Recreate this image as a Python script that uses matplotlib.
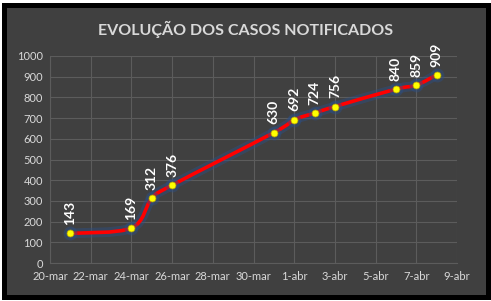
import datetime as dt

import matplotlib

matplotlib.use("Agg")
import matplotlib.pyplot as plt
import matplotlib.dates as mdates
from matplotlib.patches import PathPatch, Rectangle
from matplotlib.path import Path

plt.rcParams["font.family"] = ["Lato", "DejaVu Sans"]

# dados
datas = ["2020-03-21", "2020-03-24", "2020-03-25", "2020-03-26", "2020-03-31",
         "2020-04-01", "2020-04-02", "2020-04-03", "2020-04-06", "2020-04-07",
         "2020-04-08"]
casos = [143, 169, 312, 376, 630, 692, 724, 756, 840, 859, 909]

tick_datas = ["2020-03-20", "2020-03-22", "2020-03-24", "2020-03-26", "2020-03-28",
              "2020-03-30", "2020-04-01", "2020-04-03", "2020-04-05", "2020-04-07",
              "2020-04-09"]
tick_labels = ["20-mar", "22-mar", "24-mar", "26-mar", "28-mar", "30-mar",
               "1-abr", "3-abr", "5-abr", "7-abr", "9-abr"]

FUNDO = "#404040"
GRADE = "#5c5c5c"
TEXTO = "#d9d9d9"


def to_num(s):
    return mdates.date2num(dt.datetime.strptime(s, "%Y-%m-%d"))


def curva_suave(xs, ys):
    """Path bezier estilo 'linha suavizada' do Excel (Catmull-Rom)."""
    pts = list(zip(xs, ys))
    verts = [pts[0]]
    codes = [Path.MOVETO]
    n = len(pts)
    for i in range(n - 1):
        p0 = pts[i - 1] if i > 0 else pts[i]
        p1 = pts[i]
        p2 = pts[i + 1]
        p3 = pts[i + 2] if i + 2 < n else pts[i + 1]
        c1 = (p1[0] + (p2[0] - p0[0]) / 6, p1[1] + (p2[1] - p0[1]) / 6)
        c2 = (p2[0] - (p3[0] - p1[0]) / 6, p2[1] - (p3[1] - p1[1]) / 6)
        verts += [c1, c2, p2]
        codes += [Path.CURVE4] * 3
    return Path(verts, codes)


x = [to_num(d) for d in datas]
xt = [to_num(d) for d in tick_datas]

W, H = 491, 301
fig = plt.figure(figsize=(W / 100, H / 100), dpi=100)
fig.patch.set_facecolor("white")

# moldura preta com fundo cinza
fig.patches.append(Rectangle((3.5 / W, 4.5 / H), 484 / W, 292 / H,
                             transform=fig.transFigure, facecolor=FUNDO,
                             edgecolor="black", linewidth=3.6, zorder=-1))

ax = fig.add_axes([50 / W, 1 - 263 / H, 407 / W, 207 / H])
ax.set_facecolor(FUNDO)
ax.set_xlim(xt[0], xt[-1])
ax.set_ylim(0, 1000)
ax.set_yticks(range(0, 1001, 100))
ax.set_xticks(xt)
ax.set_xticklabels(tick_labels)
ax.tick_params(colors=TEXTO, labelsize=8, length=0, pad=6)
ax.tick_params(axis="y", pad=5)
ax.grid(True, color=GRADE, linewidth=0.8)
for sp in ax.spines.values():
    sp.set_color(GRADE)
    sp.set_linewidth(0.8)
ax.spines["top"].set_visible(False)
ax.spines["right"].set_visible(False)

path = curva_suave(x, casos)
ax.add_patch(PathPatch(path, facecolor="none", edgecolor="#2c4f86",
                       linewidth=7, alpha=0.45, zorder=3, capstyle="round"))
ax.add_patch(PathPatch(path, facecolor="none", edgecolor="#ff0000",
                       linewidth=2.6, zorder=4, capstyle="round"))
ax.plot(x, casos, "o", color="#2c4f86", markersize=10, alpha=0.45,
        markeredgewidth=0, zorder=5)
ax.plot(x, casos, "o", color="#ffff00", markersize=5,
        markeredgecolor="#b8a000", markeredgewidth=0.5, zorder=6)

for xi, yi in zip(x, casos):
    ax.annotate(str(yi), (xi, yi), xytext=(0, 6), textcoords="offset points",
                rotation=90, ha="center", va="bottom", color="white",
                fontsize=10, fontweight="bold", zorder=7,
                annotation_clip=False)

fig.text(246 / W, 1 - 29 / H, "EVOLUÇÃO DOS CASOS NOTIFICADOS", ha="center",
         va="center", color=TEXTO, fontsize=11.5, fontweight="bold")

fig.savefig("out.png", dpi=100, facecolor=fig.get_facecolor())
